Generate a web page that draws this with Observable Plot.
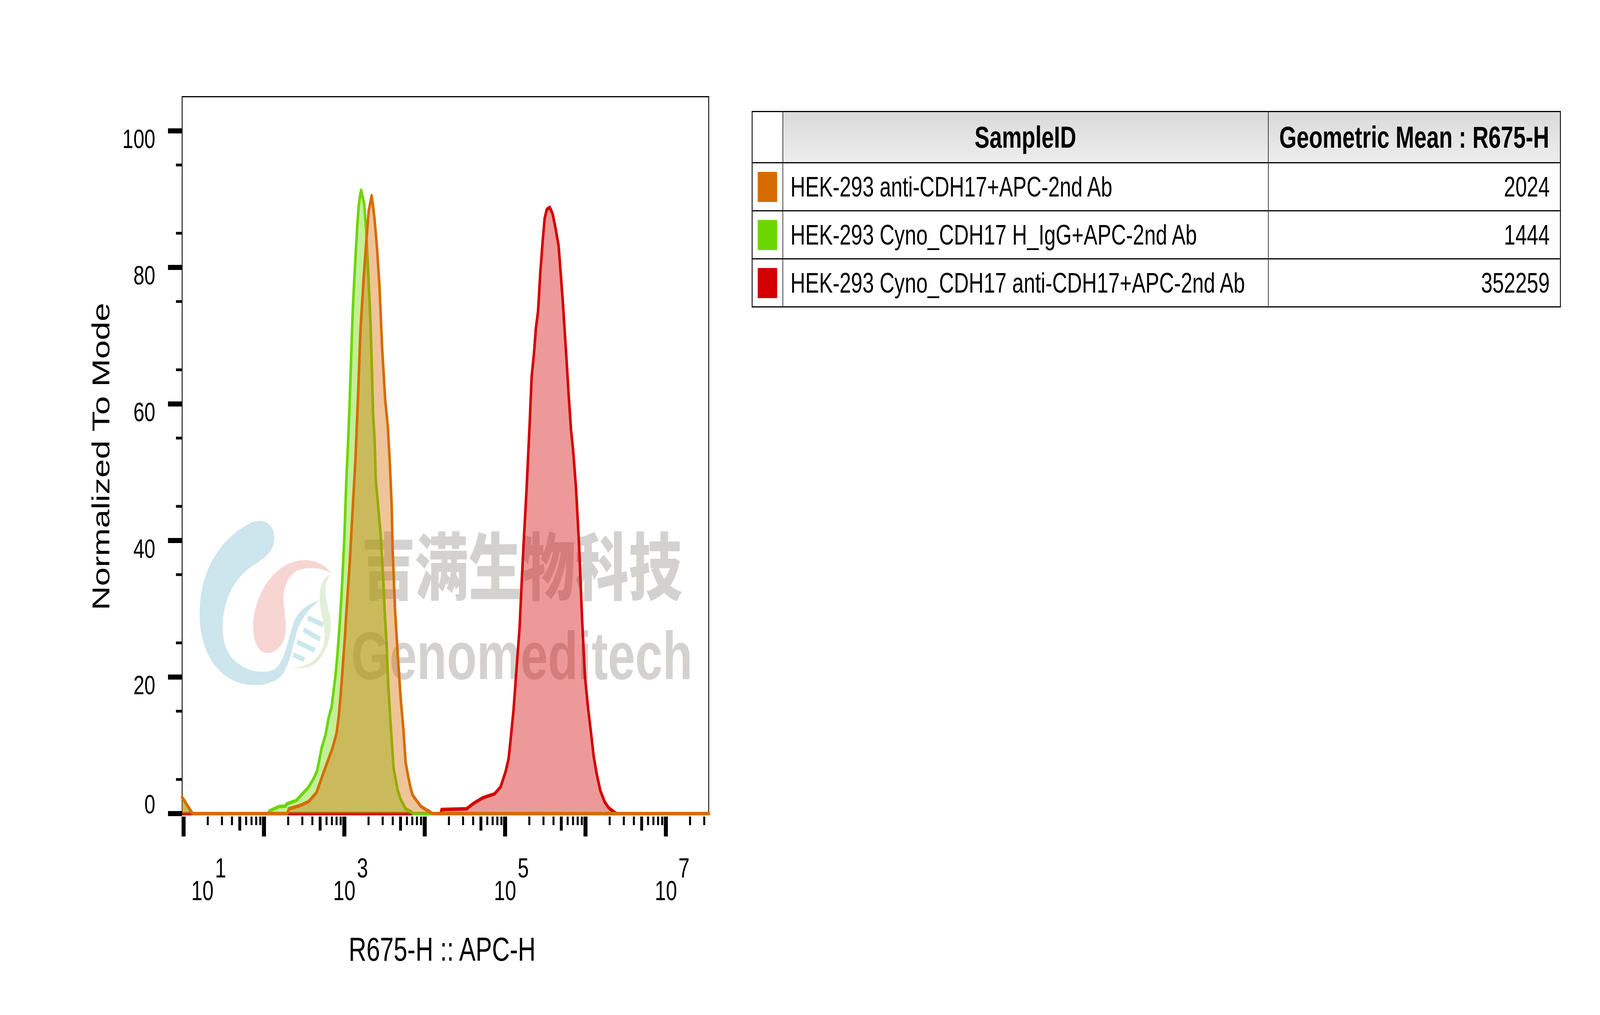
<!DOCTYPE html>
<html>
<head>
<meta charset="utf-8">
<script src="https://cdn.jsdelivr.net/npm/d3@7"></script>
<script src="https://cdn.jsdelivr.net/npm/@observablehq/plot@0.6"></script>
<style>
  html, body { margin: 0; padding: 0; background: #fff; overflow: hidden; }
  #outer { position: relative; overflow: hidden; background: #fff; }
  #wrap { position: absolute; left: 0; top: 0; width: 5600px; height: 2598px; background: #fff; transform-origin: 0 0; }
  #chart { position: absolute; left: 0; top: 0; }
  #legend { position: absolute; left: 2631px; top: 284px; }
  #legend table { border-collapse: collapse; table-layout: fixed; width: 2829px;
    font-family: "Liberation Sans", Arial, sans-serif; color: #000; border: 3px solid #000; }
  #legend td, #legend th { border-top: 3px solid #000; border-bottom: 3px solid #000;
    border-left: 2px solid #000; border-right: 2px solid #000; padding: 0; }
  #legend th { background: linear-gradient(#DADADA, #EDEDED); font-weight: bold; font-size: 78px;
    height: 128px; text-align: center; vertical-align: middle; }
  #legend td.blank { background: #fff; }
  #legend tr.row td { height: 120px; font-size: 72px; vertical-align: middle; }
  #legend td.name { text-align: left; padding-left: 26px; white-space: nowrap; }
  #legend td.val { text-align: right; padding-right: 36px; }
  #legend .sw { width: 68px; height: 77px; margin: 0 auto; }
</style>
</head>
<body>
<div id="outer"><div id="wrap"><div id="chart"></div><div id="legend"></div></div></div>
<script>
// ---------- data ----------
const sampleIds = [
  "HEK-293 anti-CDH17+APC-2nd Ab",
  "HEK-293 Cyno_CDH17 H_IgG+APC-2nd Ab",
  "HEK-293 Cyno_CDH17 anti-CDH17+APC-2nd Ab"
];
const geoMeans = ["2024", "1444", "352259"];
const seriesColors = ["#D66C00", "#6CD600", "#D40000"];

// log10 of R675-H intensity, and Normalized To Mode values
const orangeLogX = [0.982, 1.11, 2.29, 2.31, 2.40, 2.43, 2.49, 2.543, 2.567, 2.654, 2.75, 2.853, 2.903, 2.928, 2.953, 2.978, 3.003, 3.028, 3.066, 3.103, 3.137, 3.168, 3.200, 3.240, 3.271, 3.303, 3.340, 3.374, 3.406, 3.438, 3.470, 3.509, 3.541, 3.565, 3.589, 3.60, 3.63, 3.66, 3.70, 3.737, 3.762, 3.80, 3.825, 3.85, 3.899, 3.949, 3.999, 4.061, 4.09, 7.533];
const orangeY    = [2.4, 0, 0, 0.7, 1.0, 1.1, 1.4, 1.7, 1.9, 3.1, 6.3, 9.6, 11.8, 14.0, 17.2, 21.2, 25.2, 30.0, 36.5, 44.5, 51.6, 60.5, 70.7, 78.4, 83.5, 88.3, 90.5, 87.3, 82.9, 77.1, 68.2, 60.5, 56.7, 51.6, 45.0, 39.0, 30.0, 24.0, 17.0, 12.0, 7.5, 5.1, 3.7, 2.7, 1.9, 1.1, 0.7, 0.3, 0, 0];

const greenLogX = [0.982, 1.11, 2.05, 2.07, 2.19, 2.27, 2.28, 2.37, 2.40, 2.47, 2.55, 2.617, 2.662, 2.717, 2.767, 2.804, 2.841, 2.866, 2.891, 2.916, 2.941, 2.966, 3.0, 3.025, 3.045, 3.065, 3.085, 3.105, 3.125, 3.144, 3.16, 3.176, 3.192, 3.208, 3.228, 3.247, 3.271, 3.295, 3.327, 3.359, 3.376, 3.39, 3.413, 3.451, 3.488, 3.50, 3.525, 3.545, 3.575, 3.612, 3.662, 3.699, 3.737, 3.762, 3.824, 3.86, 7.533];
const greenY    = [2.4, 0, 0, 0.4, 1.05, 1.1, 1.4, 1.8, 1.9, 2.8, 3.8, 5.1, 6.3, 9.6, 11.6, 14.0, 15.6, 18.0, 20.4, 23.6, 27.6, 32.4, 40.5, 49.0, 54.0, 60.0, 67.0, 73.9, 78.5, 82.6, 86.0, 88.6, 90.2, 91.3, 90.3, 89.3, 85.4, 79.7, 71.4, 58.0, 55.0, 49.0, 46.0, 41.0, 33.3, 30.0, 25.0, 19.0, 13.2, 6.7, 3.5, 2.1, 1.3, 0.7, 0.3, 0, 0];

const redLogX = [0.982, 4.20, 4.21, 4.52, 4.607, 4.72, 4.82, 4.87, 4.943, 5.005, 5.043, 5.068, 5.105, 5.142, 5.18, 5.204, 5.229, 5.266, 5.305, 5.33, 5.36, 5.383, 5.41, 5.437, 5.465, 5.492, 5.519, 5.556, 5.592, 5.628, 5.665, 5.692, 5.719, 5.756, 5.792, 5.82, 5.847, 5.883, 5.92, 5.956, 5.993, 6.029, 6.066, 6.102, 6.138, 6.184, 6.239, 6.293, 6.348, 6.38, 7.533];
const redY    = [0, 0, 0.6, 0.7, 1.5, 2.3, 2.7, 2.9, 3.9, 6.1, 8.0, 10.8, 15.2, 21.2, 27.2, 33.3, 39.3, 47.3, 57.0, 64.0, 67.5, 71.1, 73.6, 79.1, 83.5, 87.2, 88.5, 88.8, 87.8, 85.7, 83.2, 79.1, 74.8, 68.0, 61.1, 56.2, 53.1, 47.5, 39.4, 28.9, 20.2, 15.8, 12.1, 8.4, 5.9, 3.4, 1.7, 0.8, 0.3, 0, 0];

// axis ticks
const xDecades = [1e1, 1e2, 1e3, 1e4, 1e5, 1e6, 1e7];
const xLabelDecades = [1e1, 1e3, 1e5, 1e7];
const xLabelExponents = ["1", "3", "5", "7"];
const yMajor = [0, 20, 40, 60, 80, 100];
const yMinor = [5, 15, 25, 35, 45, 55, 65, 75, 85, 95];
const xDomainLog = [0.982, 7.533];
const yDomain = [0, 105];
const xTitle = "R675-H :: APC-H";
const yTitle = "Normalized To Mode";
const watermarkCN = "吉满生物科技";
const watermarkEN = "Genomeditech";

// ---------- fit the 5600x2598 design to the actual window ----------
const W = 5600, H = 2598;
const vw = window.innerWidth || document.documentElement.clientWidth || W;
const vh = window.innerHeight || document.documentElement.clientHeight || H;
const outer = document.getElementById("outer");
outer.style.width = vw + "px";
outer.style.height = vh + "px";
document.getElementById("wrap").style.transform = `scale(${vw / W}, ${vh / H})`;

// ---------- build ----------
const FONT = '"Liberation Sans", Arial, Helvetica, sans-serif';
const toRows = (name, lx, ys) => lx.map((v, i) => ({name, x: Math.pow(10, v), y: ys[i]}));
const orange = toRows(sampleIds[0], orangeLogX, orangeY);
const green = toRows(sampleIds[1], greenLogX, greenY);
const red = toRows(sampleIds[2], redLogX, redY);

const xMax = Math.pow(10, xDomainLog[1]);
const xFives = xDecades.map(d => 5 * d).filter(v => v <= xMax);
const xMinors = [];
xDecades.forEach(d => [2, 3, 4, 6, 7, 8, 9].forEach(m => { if (m * d <= xMax) xMinors.push(m * d); }));

function logoMark() {
  const g = d3.create("svg:g").attr("transform", "translate(600,1300) scale(0.3827)");
  g.append("path").attr("fill", "#CDE5EC").attr("d",
    "M940,200 C940,90 810,60 700,110 C450,210 260,420 258,700 C255,1000 470,1185 760,1185 " +
    "C850,1185 910,1170 970,1145 C1060,1110 1100,960 1150,820 C1200,720 1280,660 1355,620 " +
    "C1200,650 1130,720 1095,820 C1040,970 1000,1080 900,1090 C800,1105 700,1090 620,1045 " +
    "C480,980 460,850 470,760 C490,560 620,440 780,370 C880,320 940,280 940,200 Z");
  g.append("path").attr("fill", "#F6D5D3").attr("d",
    "M1470,440 C1380,400 1250,390 1150,420 C1050,460 1010,560 1030,660 C1050,780 1060,860 1000,920 " +
    "C950,970 870,990 810,950 C750,900 730,800 760,700 C810,520 980,360 1200,350 C1330,345 1410,390 1470,440 Z");
  g.append("path").attr("fill", "#E2EFD8").attr("d",
    "M1470,440 C1380,460 1340,540 1360,650 C1380,760 1420,820 1390,920 C1340,1020 1250,1070 1070,1072 " +
    "C1250,1080 1330,1060 1400,960 C1460,880 1470,780 1440,690 C1400,590 1390,470 1470,440 Z");
  [[1248,735,1388,783],[1208,815,1360,878],[1150,897,1312,953],[1117,982,1215,1015]].forEach(b => {
    g.append("line").attr("x1", b[0]).attr("y1", b[1]).attr("x2", b[2]).attr("y2", b[3])
      .attr("stroke", "#CBE8EE").attr("stroke-width", 34);
  });
  return g.node();
}

const fr = {left: 637, right: 2480, top: 247, bottom: 2082};
const fs = 70;
const T = {lineAnchor: "middle"};

const chart = Plot.plot({
  width: 2600,
  height: 2598,
  marginLeft: fr.left,
  marginRight: 2600 - fr.right,
  marginTop: fr.top,
  marginBottom: 2598 - fr.bottom,
  style: {fontFamily: FONT, background: "transparent", overflow: "visible", color: "#000", maxWidth: "none"},
  x: {type: "log", domain: xDomainLog.map(v => Math.pow(10, v)), axis: null},
  y: {domain: yDomain, axis: null},
  marks: [
    logoMark,
    Plot.text([watermarkCN], {...T, frameAnchor: "top-left", textAnchor: "middle", dx: 1826 - fr.left, dy: 1461 - fr.top,
      fontSize: 187, fontWeight: 900, fill: "#D3D2D0", fontFamily: '"Noto Sans CJK SC", sans-serif'}),
    Plot.text([watermarkEN], {...T, frameAnchor: "top-left", textAnchor: "middle", dx: 1826 - fr.left, dy: 1682 - fr.top,
      fontSize: 172, fontWeight: "bold", fill: "#D3D2D0", fontFamily: FONT}),
    Plot.frame({stroke: "#000", strokeWidth: 3}),
    Plot.areaY(red, {x: "x", y: "y", fill: seriesColors[2], fillOpacity: 0.4}),
    Plot.lineY(red, {x: "x", y: "y", stroke: seriesColors[2], strokeWidth: 9, strokeLinejoin: "round"}),
    Plot.areaY(green, {x: "x", y: "y", fill: seriesColors[1], fillOpacity: 0.4}),
    Plot.lineY(green, {x: "x", y: "y", stroke: seriesColors[1], strokeWidth: 9, strokeLinejoin: "round"}),
    Plot.areaY(orange, {x: "x", y: "y", fill: seriesColors[0], fillOpacity: 0.4}),
    Plot.lineY(orange, {x: "x", y: "y", stroke: seriesColors[0], strokeWidth: 9, strokeLinejoin: "round"}),
    // x ticks
    Plot.axisX(xDecades, {tickSize: 51, strokeWidth: 14, tickFormat: () => "", label: null, dy: 8}),
    Plot.axisX(xFives, {tickSize: 36, strokeWidth: 10, tickFormat: () => "", label: null, dy: 8}),
    Plot.axisX(xMinors, {tickSize: 22, strokeWidth: 7, tickFormat: () => "", label: null, dy: 8}),
    // y ticks
    Plot.axisY(yMajor, {tickSize: 49, strokeWidth: 13, tickFormat: () => "", label: null}),
    Plot.axisY(yMinor, {tickSize: 21, strokeWidth: 7, tickFormat: () => "", label: null}),
    // y tick labels
    Plot.text(yMajor.filter(v => v > 0), {...T, y: d => d, text: d => String(d), frameAnchor: "left",
      textAnchor: "end", dx: 543 - fr.left, dy: 22, fontSize: 69}),
    Plot.text(yMajor.filter(v => v === 0), {...T, y: d => d, text: d => String(d), frameAnchor: "left",
      textAnchor: "end", dx: 543 - fr.left, dy: -23, fontSize: 69}),
    // x tick labels 10^n
    Plot.text(xLabelDecades.slice(0, 1), {...T, x: d => d, text: () => "10", frameAnchor: "bottom",
      textAnchor: "middle", dx: 66, dy: 221 - 0.32 * fs, fontSize: fs}),
    Plot.text(xLabelDecades.slice(1), {...T, x: d => d, text: () => "10", frameAnchor: "bottom",
      textAnchor: "middle", dx: 0, dy: 221 - 0.32 * fs, fontSize: fs}),
    Plot.text(xLabelDecades.slice(0, 1), {...T, x: d => d, text: () => xLabelExponents[0], frameAnchor: "bottom",
      textAnchor: "start", dx: 110, dy: 163 - 0.32 * fs, fontSize: fs}),
    Plot.text(xLabelDecades.slice(1), {...T, x: d => d, text: (d, i) => xLabelExponents[i + 1], frameAnchor: "bottom",
      textAnchor: "start", dx: 44, dy: 163 - 0.32 * fs, fontSize: fs}),
    // axis titles
    Plot.text([xTitle], {...T, frameAnchor: "bottom", textAnchor: "middle", dx: 1547 - (fr.left + fr.right) / 2,
      dy: 377 - 0.32 * 86, fontSize: 86}),
    Plot.text([yTitle], {...T, frameAnchor: "left", textAnchor: "middle", rotate: -90, dx: 382 - 0.32 * 86 - fr.left,
      dy: 1168 - (fr.top + fr.bottom) / 2, fontSize: 86})
  ]
});
document.getElementById("chart").appendChild(chart);

// ---------- legend table ----------
let html = '<table><colgroup><col style="width:107px"><col style="width:1699px"><col style="width:1023px"></colgroup>';
html += '<tr><td class="blank" style="height:128px"></td><th>SampleID</th><th>Geometric Mean : R675-H</th></tr>';
sampleIds.forEach((s, i) => {
  html += `<tr class="row"><td><div class="sw" style="background:${seriesColors[i]}"></div></td>` +
          `<td class="name">${s}</td><td class="val">${geoMeans[i]}</td></tr>`;
});
html += '</table>';
document.getElementById("legend").innerHTML = html;
</script>
</body>
</html>
